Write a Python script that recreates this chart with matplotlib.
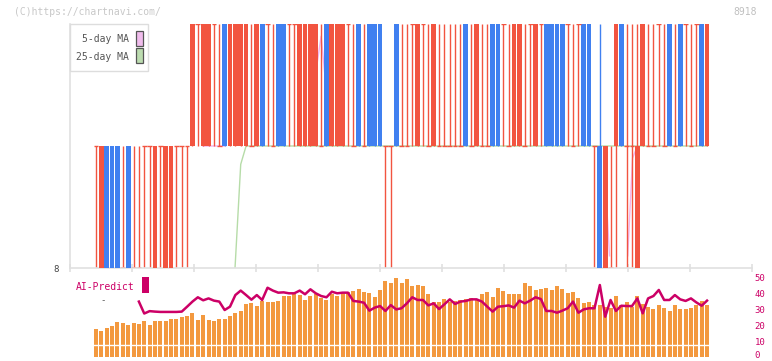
import matplotlib
matplotlib.use('Agg')
import matplotlib.pyplot as plt
from matplotlib.patches import Rectangle
import matplotlib.transforms as mtrans
import numpy as np

plt.rcParams['font.family'] = ['DejaVu Sans Mono', 'DejaVu Sans']

# ---------------- data ----------------
# trading days 2025-08-13 .. 2026-02-02 (index 0..114)
date_labels = ['9/2', '9/17', '10/2', '10/17', '10/31', '11/17', '12/2', '12/16', '12/30', '1/19', '2/2']
date_label_idx = [14, 24, 34, 44, 54, 64, 74, 84, 94, 104, 114]

opens = [9, 8, 9, 9, 9, 8, 9, 8, 8, 9,
         9, 8, 9, 8, 8, 9, 9, 9, 9, 10,
         9, 9, 10, 9, 10, 9, 9, 9, 9, 9,
         9, 10, 10, 9, 10, 10, 10, 10, 9, 9,
         9, 9, 9, 10, 9, 9, 9, 10, 9, 10,
         9, 10, 10, 10, 9, 9, 10, 9, 9, 10,
         9, 10, 9, 9, 9, 9, 9, 9, 9, 10,
         9, 9, 9, 9, 10, 10, 10, 9, 9, 9,
         9, 10, 9, 10, 10, 10, 10, 10, 10, 9,
         10, 10, 10, 9, 9, 8, 8, 9, 10, 9,
         9, 8, 9, 9, 9, 10, 9, 10, 9, 10,
         10, 9, 10, 10, 9]
closes = [9, 9, 8, 8, 8, 8, 8, 8, 8, 9,
          9, 9, 9, 9, 9, 9, 9, 9, 10, 10,
          10, 10, 10, 9, 9, 10, 10, 10, 10, 9,
          10, 9, 10, 9, 9, 9, 10, 10, 10, 10,
          10, 10, 9, 9, 10, 10, 10, 10, 9, 9,
          9, 9, 9, 9, 9, 9, 9, 9, 9, 10,
          10, 10, 9, 10, 9, 9, 9, 9, 9, 9,
          9, 10, 9, 9, 9, 9, 10, 9, 10, 10,
          9, 10, 10, 10, 9, 9, 9, 9, 10, 9,
          10, 9, 9, 9, 8, 9, 8, 10, 9, 9,
          9, 9, 10, 9, 9, 10, 9, 9, 9, 9,
          10, 9, 10, 9, 10]
highs = [9, 9, 9, 9, 9, 9, 9, 9, 9, 9,
         9, 9, 9, 9, 9, 9, 9, 9, 10, 10,
         10, 10, 10, 10, 10, 10, 10, 10, 10, 10,
         10, 10, 10, 10, 10, 10, 10, 10, 10, 10,
         10, 10, 10, 10, 10, 10, 10, 10, 10, 10,
         10, 10, 10, 10, 9, 9, 10, 10, 10, 10,
         10, 10, 10, 10, 10, 10, 10, 10, 10, 10,
         10, 10, 10, 10, 10, 10, 10, 10, 10, 10,
         10, 10, 10, 10, 10, 10, 10, 10, 10, 10,
         10, 10, 10, 9, 10, 9, 9, 10, 10, 10,
         10, 10, 10, 10, 10, 10, 10, 10, 10, 10,
         10, 10, 10, 10, 10]
lows = [8, 8, 8, 8, 8, 8, 8, 8, 8, 8,
        8, 8, 8, 8, 8, 8, 8, 8, 9, 9,
        9, 9, 9, 9, 9, 9, 9, 9, 9, 9,
        9, 9, 9, 9, 9, 9, 9, 9, 9, 9,
        9, 9, 9, 9, 9, 9, 9, 9, 9, 9,
        9, 9, 9, 9, 8, 8, 9, 9, 9, 9,
        9, 9, 9, 9, 9, 9, 9, 9, 9, 9,
        9, 9, 9, 9, 9, 9, 9, 9, 9, 9,
        9, 9, 9, 9, 9, 9, 9, 9, 9, 9,
        9, 9, 9, 8, 8, 8, 8, 8, 9, 8,
        8, 8, 9, 9, 9, 9, 9, 9, 9, 9,
        9, 9, 9, 9, 9]

# moving averages (only the visible pieces; nan breaks the line)
ma5_days = [20, 24, np.nan, 40, 41, 42, 43, np.nan, 95.3, 95.8, np.nan, 99.2, 100.1, 101]
ma5_vals = [9.0, 9.0, np.nan, 9.45, 9.6, 9.9, 9.45, np.nan, 8.5, 8.1, np.nan, 8.1, 8.9, 9.0]
ma25_days = [25, 26, 27, 28, 114]
ma25_vals = [7.3, 8.05, 8.85, 9.0, 9.0]

# volume (drawn in the 0-50 scale of the lower panel)
volume = [17.8, 16.5, 18.4, 19.7, 22.4, 21.5, 20.3, 21.5, 20.9, 23.0,
          20.3, 23.0, 22.8, 23.0, 24.0, 24.0, 25.5, 26.2, 28.0, 23.4,
          26.4, 23.4, 22.8, 24.0, 24.0, 26.0, 27.8, 29.3, 33.5, 34.3,
          32.3, 35.4, 35.0, 35.0, 35.4, 38.5, 38.5, 39.6, 39.1, 36.0,
          38.5, 39.6, 37.5, 36.0, 39.6, 38.5, 40.2, 40.8, 41.9, 42.7,
          41.2, 40.6, 38.1, 42.3, 47.9, 46.5, 50.0, 46.5, 49.2, 44.8,
          45.4, 44.8, 39.8, 35.0, 35.0, 36.4, 35.0, 35.4, 36.0, 36.4,
          37.0, 36.0, 39.6, 41.2, 38.1, 43.7, 41.6, 39.8, 39.8, 39.8,
          46.9, 44.8, 42.3, 42.9, 43.7, 42.3, 44.8, 42.9, 40.6, 40.8,
          37.2, 34.3, 34.7, 32.8, 32.8, 31.8, 31.2, 38.5, 32.8, 34.7,
          31.8, 38.5, 33.3, 31.8, 30.3, 32.8, 31.0, 29.1, 32.8, 30.3,
          30.3, 30.8, 32.8, 35.4, 32.8]

ai_start = 8
ai_predict = [35.0, 27.5, 29.0, 28.7, 28.5, 28.5, 28.5, 28.5, 28.7, 31.8, 35.0, 37.7,
              35.8, 37.0, 35.6, 35.0, 29.7, 31.8, 39.1, 41.9, 39.1, 36.2,
              39.1, 36.0, 43.7, 41.9, 40.6, 40.8, 40.2, 40.2, 41.9, 39.6,
              42.7, 40.2, 38.5, 37.7, 41.2, 40.2, 40.6, 40.6, 35.4, 35.0,
              34.3, 29.3, 31.2, 32.2, 29.1, 32.8, 30.1, 30.8, 33.9, 37.7,
              36.0, 36.0, 32.6, 33.9, 30.3, 33.3, 36.4, 33.5, 35.0, 35.4,
              36.4, 36.4, 35.0, 31.8, 28.7, 31.8, 32.1, 32.6, 31.2, 35.6,
              33.9, 35.6, 37.7, 36.6, 29.1, 29.1, 28.0, 29.3, 30.8, 35.0,
              28.0, 30.1, 30.8, 30.8, 45.4, 25.5, 36.0, 29.1, 32.4, 32.2,
              32.2, 37.0, 27.6, 37.0, 38.5, 42.3, 36.0, 36.0, 39.1, 36.4,
              35.4, 37.0, 34.5, 32.4, 35.6]

# ---------------- styling ----------------
W, H = 772, 361
UP = '#f25440'
DOWN = '#4080f0'
ORANGE = '#f3993f'
CRIMSON = '#cc0066'
GRID = '#e0e0e0'

def fx(px):
    return px / W

def fy(py):
    return 1 - py / H

fig = plt.figure(figsize=(7.72, 3.61), dpi=100)

# pixel -> data mapping of x (day 0 at px 96, 5.36 px/day)
x0_px, step_px = 96.0, 5.36
xlim = ((70 - x0_px) / step_px, (752 - x0_px) / step_px)

# ---------------- main candle panel ----------------
ax = fig.add_axes([fx(70), fy(268), fx(752) - fx(70), fy(24) - fy(268)])
ax.set_xlim(*xlim)
ax.set_ylim(8, 10)
for s in ['top', 'right']:
    ax.spines[s].set_visible(False)
for s in ['left', 'bottom']:
    ax.spines[s].set_color(GRID)
    ax.spines[s].set_linewidth(1.2)
ax.set_xticks(np.linspace(xlim[0], xlim[1], 12))
ax.set_xticklabels([])
ax.tick_params(axis='x', direction='inout', length=6, width=1.2, color=GRID)
ax.set_yticks([8])
ax.set_yticklabels(['8'], fontsize=6.5, color='#444444')
ax.tick_params(axis='y', length=0, pad=8)

n = len(opens)
idx = np.arange(n)
o = np.array(opens, float)
c = np.array(closes, float)
h = np.array(highs, float)
l = np.array(lows, float)
cols = [DOWN if cc < oo else UP for oo, cc in zip(o, c)]
bw = 0.88

ax.vlines(idx, l, h, colors=cols, linewidth=1.0, zorder=2)
body = np.abs(c - o)
has_body = body > 0
ax.bar(idx[has_body], body[has_body], bottom=np.minimum(o, c)[has_body], width=bw,
       color=[cols[i] for i in idx[has_body]], linewidth=0, zorder=3)
doji = ~has_body
ax.hlines(o[doji], idx[doji] - bw / 2, idx[doji] + bw / 2, colors=UP, linewidth=1.0, zorder=3)

ax.plot(ma25_days, ma25_vals, color='#b6dca8', linewidth=1.0, zorder=1.5)
ax.plot(ma5_days, ma5_vals, color='#f2b4ee', linewidth=1.0, zorder=1.6)

# date labels between panels
trans = mtrans.blended_transform_factory(ax.transData, fig.transFigure)
for lab, i in zip(date_labels, date_label_idx):
    ax.text(i, fy(283), lab, transform=trans, ha='center', va='center',
            fontsize=6, color='#555555', clip_on=False)

# ---------------- lower panel ----------------
ax2 = fig.add_axes([fx(70), fy(357.3), fx(752) - fx(70), fy(277.7) - fy(357.3)])
ax2.set_xlim(*xlim)
ax2.set_ylim(0, 50)
for s in ax2.spines.values():
    s.set_visible(False)
ax2.set_xticks([])
ax2.yaxis.tick_right()
ax2.set_yticks([0, 10, 20, 30, 40, 50])
ax2.set_yticklabels(['0', '10', '20', '30', '40', '50'], fontsize=6.5, color=CRIMSON)
ax2.tick_params(axis='y', length=0, pad=2)
# lift the "0" label slightly so it stays inside the canvas
lbl0 = ax2.get_yticklabels()[0]
lbl0.set_transform(lbl0.get_transform() + mtrans.ScaledTranslation(0, 1.8 / 72, fig.dpi_scale_trans))

ax2.bar(idx, volume, width=0.75, color=ORANGE, linewidth=0, zorder=2)
ax2.axhline(7.5, color='white', linewidth=1.0, zorder=3)
ax2.plot(np.arange(ai_start, ai_start + len(ai_predict)), ai_predict,
         color=CRIMSON, linewidth=1.8, zorder=4, solid_joinstyle='round')

# ---------------- figure-level texts / legends ----------------
fig.text(fx(14), fy(12), '(C)https://chartnavi.com/', fontsize=7, color='#c8c8c8',
         ha='left', va='center')
fig.text(fx(757), fy(12), '8918', fontsize=7, color='#c0c0c0', ha='right', va='center')

leg = Rectangle((fx(70), fy(71)), fx(148) - fx(70), fy(24) - fy(71), transform=fig.transFigure,
                facecolor='white', edgecolor='#dddddd', linewidth=1.0, zorder=10)
fig.add_artist(leg)
fig.text(fx(129), fy(42.5), '5-day MA', fontsize=7, color='#555555', ha='right', va='baseline', zorder=11)
fig.text(fx(129), fy(59.5), '25-day MA', fontsize=7, color='#555555', ha='right', va='baseline', zorder=11)
fig.add_artist(Rectangle((fx(136), fy(45.5)), fx(142.5) - fx(136), fy(31) - fy(45.5),
                         transform=fig.transFigure, facecolor='#f0bcec', edgecolor='#555555',
                         linewidth=0.9, zorder=11))
fig.add_artist(Rectangle((fx(136), fy(63)), fx(142.5) - fx(136), fy(48.5) - fy(63),
                         transform=fig.transFigure, facecolor='#bcdcb0', edgecolor='#555555',
                         linewidth=0.9, zorder=11))

fig.text(fx(76), fy(290), 'AI-Predict', fontsize=7, color=CRIMSON, ha='left', va='baseline')
fig.add_artist(Rectangle((fx(142), fy(292.5)), fx(148.5) - fx(142), fy(277) - fy(292.5),
                         transform=fig.transFigure, facecolor=CRIMSON, edgecolor='none', zorder=11))
fig.text(fx(103.5), fy(301), '-', fontsize=6.5, color='#555555', ha='center', va='center')

fig.savefig('out.png', dpi=100)
